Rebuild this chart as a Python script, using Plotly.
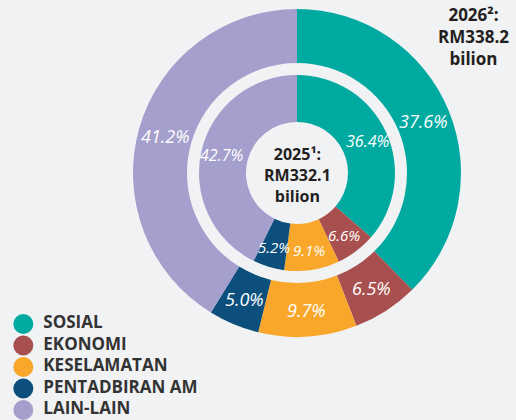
import math
import plotly.graph_objects as go

categories = ["SOSIAL", "EKONOMI", "KESELAMATAN", "PENTADBIRAN AM", "LAIN-LAIN"]
share_2026 = [37.6, 6.5, 9.7, 5.0, 41.2]
share_2025 = [36.4, 6.6, 9.1, 5.2, 42.7]
total_2026 = "RM338.2"
total_2025 = "RM332.1"
year_2026 = "2026²:"
year_2025 = "2025¹:"
unit = "bilion"

colors = ["#00aaa1", "#a84f4f", "#f9a72b", "#0c4f7d", "#a59fcd"]
inner_label_sizes = [16, 15, 15, 15, 16]
outer_label_size = 18

W, H = 516, 420
cx, cy = 297, 173
R_out, R_out_hole = 164, 110
R_in, R_in_hole = 98, 51
bg = "#f1f2f4"
txt = "#231f20"
FONT = "Open Sans"


def dom(r):
    return dict(x=[(cx - r) / W, (cx + r) / W],
                y=[(H - cy - r) / H, (H - cy + r) / H])


def px(x, y):
    return x / W, 1 - y / H


fig = go.Figure()
for vals, r, rh in [(share_2026, R_out, R_out_hole), (share_2025, R_in, R_in_hole)]:
    fig.add_trace(go.Pie(
        labels=categories, values=vals, sort=False, direction="clockwise",
        rotation=0, hole=rh / r, domain=dom(r),
        marker=dict(colors=colors, line=dict(width=0)),
        textinfo="none", showlegend=False, hoverinfo="label+value"))


def ring_labels(vals, r_mid, sizes):
    total = sum(vals)
    cum = 0
    for v, s in zip(vals, sizes):
        ang = math.radians((cum + v / 2) / total * 360)
        cum += v
        x = cx + r_mid * math.sin(ang)
        y = cy - r_mid * math.cos(ang)
        ax, ay = px(x, y)
        fig.add_annotation(x=ax, y=ay, xref="paper", yref="paper",
                           text=f"{v:.1f}%", showarrow=False,
                           xanchor="center", yanchor="middle",
                           font=dict(family=FONT, size=s, color="white",
                                     style="italic"))


ring_labels(share_2026, (R_out + R_out_hole) / 2, [outer_label_size] * 5)
ring_labels(share_2025, (R_in + R_in_hole) / 2 + 3, inner_label_sizes)

# Totals
for lines, x, y, s in [((year_2026, total_2026, unit), 473, 36, 17),
                       ((year_2025, total_2025, unit), 297, 175, 16)]:
    ax, ay = px(x, y)
    fig.add_annotation(x=ax, y=ay, xref="paper", yref="paper",
                       text="<b>" + "<br>".join(lines) + "</b>",
                       showarrow=False, align="center",
                       xanchor="center", yanchor="middle",
                       font=dict(family=FONT, size=s, color=txt))

# Legend (markers + labels on a hidden axis)
fig.add_trace(go.Scatter(
    x=[1.13] * 5, y=categories, mode="markers", showlegend=False,
    marker=dict(color=colors, size=20, symbol="circle", line=dict(width=0)),
    hoverinfo="skip"))
fig.add_trace(go.Scatter(
    x=[2.1] * 5, y=categories, mode="text", text=categories,
    textposition="middle right", showlegend=False, hoverinfo="skip",
    textfont=dict(family=FONT, size=17, color="#333333", weight="bold")))

fig.update_layout(
    width=W, height=H,
    margin=dict(l=0, r=0, t=0, b=0, autoexpand=False),
    paper_bgcolor=bg, plot_bgcolor="rgba(0,0,0,0)",
    xaxis=dict(visible=False, domain=[0, 0.4], range=[0, 10], fixedrange=True),
    yaxis=dict(visible=False, domain=[0, 0.2542], type="category",
               categoryorder="array", categoryarray=categories,
               range=[4.465, -0.5], fixedrange=True),
    showlegend=False,
)
fig.write_html("out.html", config={"displayModeBar": False},
               post_script="document.body.style.margin='0';"
                           "document.body.style.overflow='hidden';")
